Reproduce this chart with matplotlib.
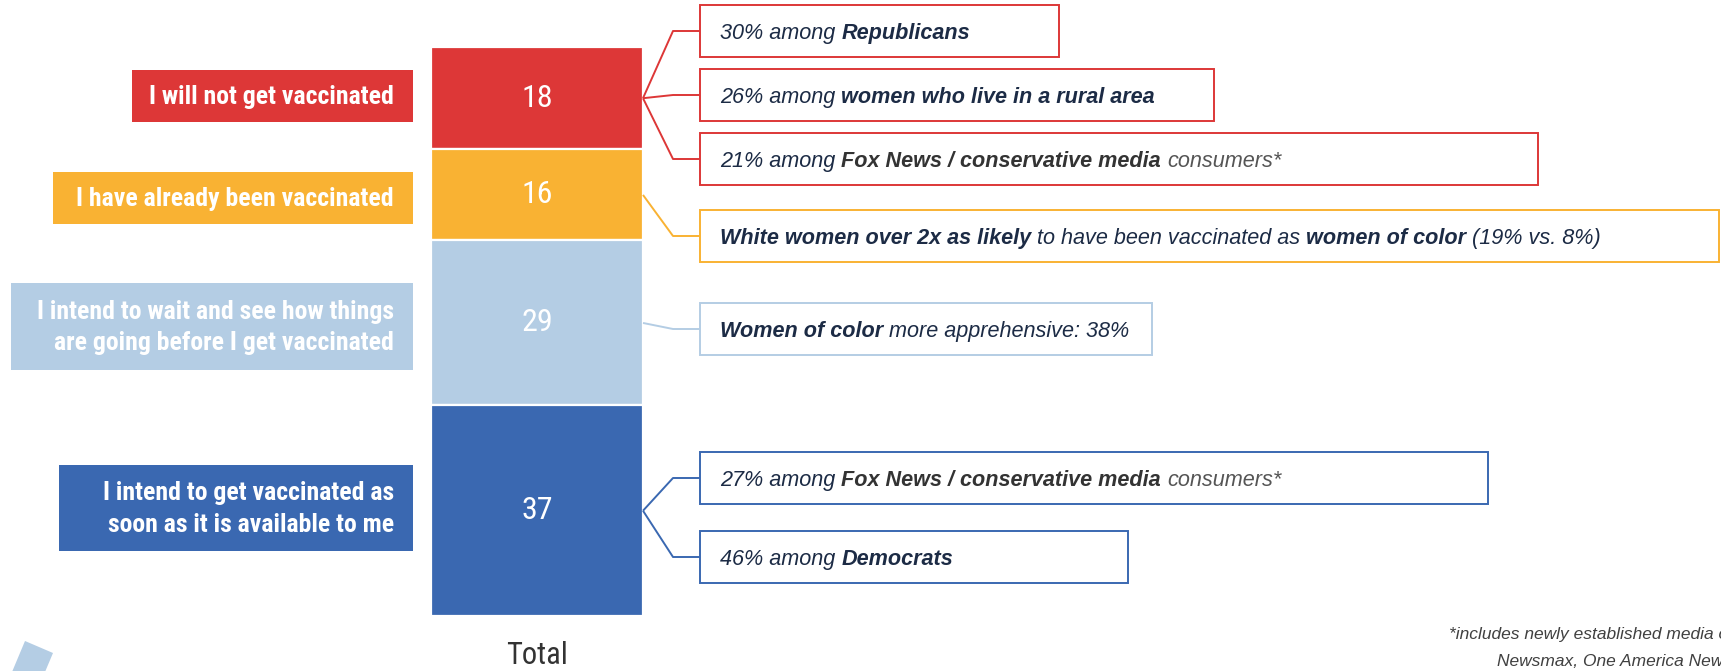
import matplotlib
matplotlib.use("Agg")
import matplotlib.pyplot as plt
from matplotlib import font_manager
from matplotlib.font_manager import FontProperties
from matplotlib.patches import Rectangle, Polygon
import numpy as np

# ---------------- data ----------------
categories = [
    "I will not get vaccinated",
    "I have already been vaccinated",
    "I intend to wait and see how things\nare going before I get vaccinated",
    "I intend to get vaccinated as\nsoon as it is available to me",
]
values = [18, 16, 29, 37]
bar_label = "Total"
colors = ["#DD3737", "#F9B233", "#B4CDE4", "#3A68B1"]

# callout texts per category: list of (text, style) pieces
callouts = [
    [[("30% among ", "n"), ("Republicans", "b")],
     [("26% among ", "n"), ("women who live in a rural area", "b")],
     [("21% among ", "n"), ("Fox News / conservative media", "g"), (" consumers*", "l")]],
    [[("White women over 2x as likely", "b"), (" to have been vaccinated as ", "n"),
      ("women of color", "b"), (" (19% vs. 8%)", "n")]],
    [[("Women of color", "b"), (" more apprehensive: 38%", "n")]],
    [[("27% among ", "n"), ("Fox News / conservative media", "g"), (" consumers*", "l")],
     [("46% among ", "n"), ("Democrats", "b")]],
]
footnote = ["*includes newly established media outlets such as",
            "Newsmax, One America News Network"]

# ---------------- layout (pixels) ----------------
W, H = 1721, 671
bar_l, bar_r, bar_t, bar_b = 431, 643, 47, 616
label_boxes = [(132, 70, 122), (53, 172, 224), (11, 283, 370), (59, 465, 551)]  # x0, y0, y1
label_right, label_text_x = 413, 394
box_x0, kink_x, text_x = 700, 673, 720
callout_boxes = [  # (x1, y0, y1) for each callout in order
    [(1059, 5, 57), (1214, 69, 121), (1538, 133, 185)],
    [(1719, 210, 262)],
    [(1152, 303, 355)],
    [(1488, 452, 504), (1128, 531, 583)],
]

# pick a condensed face if one is installed (the reference uses a narrow sans)
ttf = font_manager.fontManager.ttflist
names = {f.name for f in ttf}
narrow_fp = None
for fam in ["Liberation Sans Narrow", "Roboto Condensed", "Open Sans Condensed"]:
    if fam in names:
        narrow_fp = dict(family=fam)
        break
if narrow_fp is None:
    for fam in ["Liberation Sans", "Roboto", "DejaVu Sans", "Noto Sans", "Open Sans"]:
        if any(f.name == fam and f.stretch in ("condensed", "semi-condensed",
                                               "extra-condensed") for f in ttf):
            narrow_fp = dict(family=fam, stretch="condensed")
            break
if narrow_fp is None:
    narrow_fp, k = dict(family="Liberation Sans"), 0.82
else:
    k = 1.0
SANS = "Liberation Sans"

NAVY = "#1C2B45"
styles = {
    "n": dict(style="italic", weight="normal", color=NAVY),
    "b": dict(style="italic", weight="bold", color=NAVY),
    "g": dict(style="italic", weight="bold", color="#333333"),
    "l": dict(style="italic", weight="normal", color="#555555"),
}
CALL_FS = 15.6

fig = plt.figure(figsize=(W / 100, H / 100), dpi=100)
fig.patch.set_facecolor("white")

# bar axes (data in percent)
ax_b = fig.add_axes([bar_l / W, (H - bar_b) / H, (bar_r - bar_l) / W, (bar_b - bar_t) / H])
ax_b.set_xlim(-0.5, 0.5)
ax_b.set_ylim(100, 0)
ax_b.axis("off")

# overlay axes in pixel units
ax_o = fig.add_axes([0, 0, 1, 1], zorder=2)
ax_o.set_xlim(0, W)
ax_o.set_ylim(H, 0)
ax_o.axis("off")
ax_o.patch.set_visible(False)

vals = np.array(values, dtype=float)
bottoms = np.concatenate([[0], np.cumsum(vals)[:-1]])
mids = bottoms + vals / 2
ax_b.bar(0, vals, bottom=bottoms, width=1.0, color=colors, edgecolor="white",
         linewidth=1.6, align="center")
num_fs = 23 if k == 1.0 else 20.5
for v, m in zip(values, mids):
    ax_b.text(0, m, str(v), ha="center", va="center", color="white",
              fontsize=num_fs, **narrow_fp)

def to_overlay(x, y):
    disp = ax_b.transData.transform((x, y))
    return ax_o.transData.inverted().transform(disp)

cx, _ = to_overlay(0, 0)
ax_o.text(cx, 656, bar_label, ha="center", va="center", color="#333333",
          fontsize=22 if k == 1.0 else 20, **narrow_fp)

# left category labels
lab_fs = 18.5 if k == 1.0 else 15.6
for cat, col, (x0, y0, y1) in zip(categories, colors, label_boxes):
    ax_o.add_patch(Rectangle((x0, y0), label_right - x0, y1 - y0, facecolor=col,
                             edgecolor="none"))
    ax_o.text(label_text_x, (y0 + y1) / 2 + 1, cat, ha="right", va="center",
              multialignment="right", color="white", fontsize=lab_fs,
              weight="bold", linespacing=1.42 if k == 1.0 else 1.6, **narrow_fp)

renderer = fig.canvas.get_renderer()

def width_of(s, fp):
    w, h, d = renderer.get_text_width_height_descent(s, fp, ismath=False)
    return w

em_px = CALL_FS * 100 / 72
for ci, (col, m) in enumerate(zip(colors, mids)):
    ox, oy = to_overlay(0.5, m)
    for pieces, (x1, y0, y1) in zip(callouts[ci], callout_boxes[ci]):
        ym = (y0 + y1) / 2
        ax_o.add_patch(Rectangle((box_x0, y0), x1 - box_x0, y1 - y0, facecolor="white",
                                 edgecolor=col, linewidth=1.4))
        ax_o.plot([ox, kink_x, box_x0], [oy, ym, ym], color=col, lw=1.4,
                  solid_capstyle="butt", zorder=1)
        x = text_x
        base = ym + 0.36 * em_px
        for txt, st in pieces:
            sd = styles[st]
            fp = FontProperties(family=SANS, style=sd["style"], weight=sd["weight"],
                                size=CALL_FS)
            sp = width_of("x x", fp) - width_of("xx", fp)
            core = txt.strip()
            lead = len(txt) - len(txt.lstrip())
            trail = len(txt) - len(txt.rstrip())
            x += lead * sp
            ax_o.text(x, base, core, ha="left", va="baseline", fontproperties=fp,
                      color=sd["color"])
            x += width_of(core, fp) + trail * sp

# footnote (cut by the right edge, as in the source slide)
ax_o.text(1449, 634, footnote[0], ha="left", va="center", color="#404040",
          fontsize=12.5, family=SANS, style="italic")
ax_o.text(1497, 662, footnote[1], ha="left", va="center", color="#404040",
          fontsize=12.5, family=SANS, style="italic")

# decorative corner shape
ax_o.add_patch(Polygon([(25, 641), (53, 653), (45, 672), (12, 672)], closed=True,
                       facecolor="#B4CDE4", edgecolor="none"))

fig.savefig("out.png", dpi=100, facecolor="white")
